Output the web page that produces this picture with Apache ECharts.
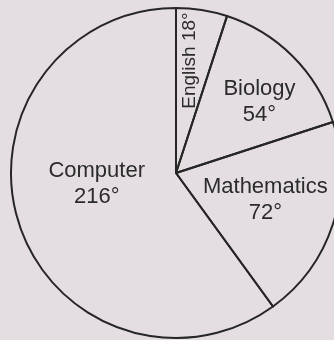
<!DOCTYPE html>
<html>
<head>
<meta charset="utf-8">
<script src="https://cdn.jsdelivr.net/npm/echarts@6/dist/echarts.min.js"></script>
<style>
  html, body { margin: 0; padding: 0; background: #e4dee3; }
  #chart { width: 334px; height: 340px; }
</style>
</head>
<body>
<div id="chart"></div>
<script>
// subjects and their angles in the pie (degrees)
var subjects = ['English', 'Biology', 'Mathematics', 'Computer'];
var degrees = [18, 54, 72, 216];

// small nudges so the labels sit where the book put them
// (English is rotated, so its nudge is in the label's own frame)
var labelNudge = [[28, 0], [23, -11], [8, 1], [2, -15]];

function createSubjectPie(element) {
    var myChart = echarts.init(element);
    let pieData = []
    subjects.forEach((s, i) => {
        let item = { name: s, value: degrees[i] }
        if (s === 'English') {
            // written sideways, reading upwards
            item.label = { rotate: 90, formatter: '{b} {c}°', fontSize: 19 }
        }
        pieData.push(item)
    })

    let option = {
        backgroundColor: '#e4dee3',
        animation: false,
        series: [
            {
                type: 'pie',
                center: [176, 173],
                radius: 165,
                startAngle: 90,
                clockwise: true,
                avoidLabelOverlap: false,
                silent: true,
                data: pieData,
                itemStyle: {
                    color: 'rgba(0,0,0,0)',
                    borderColor: '#262626',
                    borderWidth: 2
                },
                label: {
                    show: true,
                    position: 'inside',
                    formatter: '{b}\n{c}°',
                    color: '#2b2b2b',
                    fontFamily: 'Liberation Sans, Arial, sans-serif',
                    fontSize: 22,
                    lineHeight: 26,
                    align: 'center'
                },
                labelLine: { show: false },
                labelLayout: function (params) {
                    let n = labelNudge[params.dataIndex]
                    return { dx: n[0], dy: n[1] }
                },
                emphasis: { disabled: true }
            }
        ]
    };
    myChart.setOption(option);
}

createSubjectPie(document.getElementById('chart'));
</script>
</body>
</html>
